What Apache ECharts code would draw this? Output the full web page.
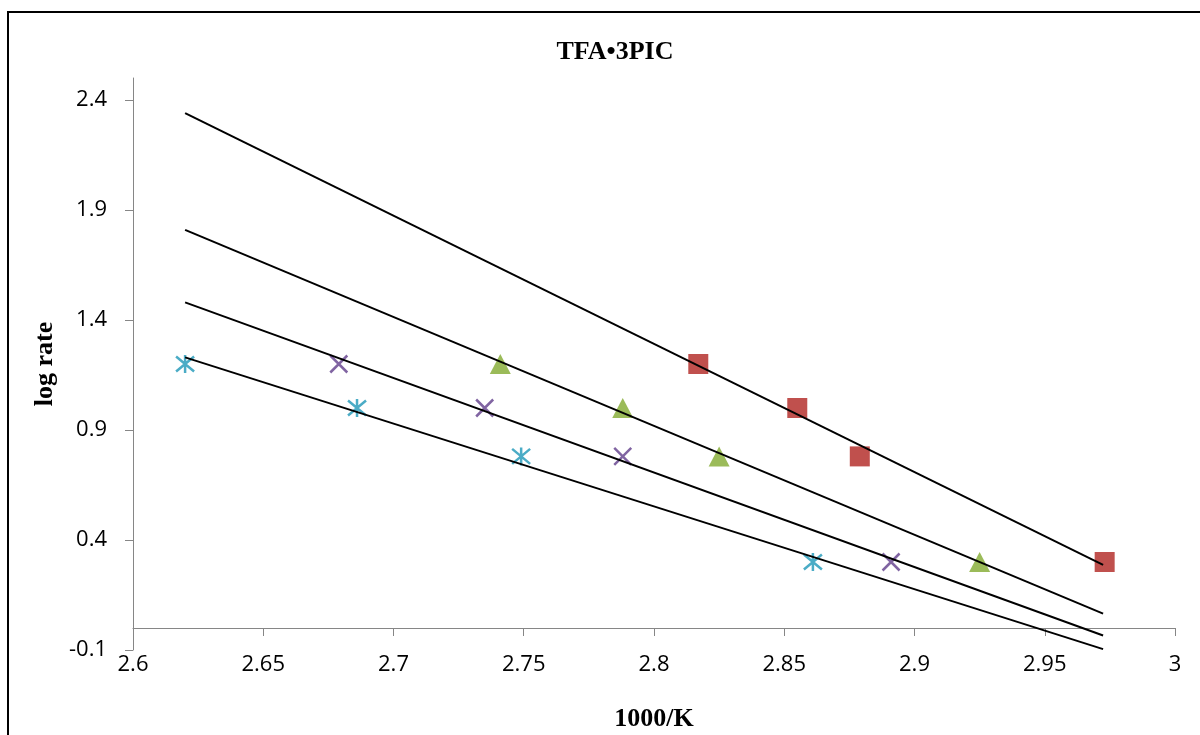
<!DOCTYPE html>
<html>
<head>
<meta charset="utf-8">
<script src="https://cdn.jsdelivr.net/npm/echarts@6/dist/echarts.min.js"></script>
<style>
  html, body { margin: 0; padding: 0; background: #fff; }
  #chart { width: 1200px; height: 735px; }
</style>
</head>
<body>
<div id="chart"></div>
<script>
// ---- data ----
const titleText = 'TFA\u20223PIC';
const xName = '1000/K';
const yName = 'log rate';
const yTickValues = [-0.1, 0.4, 0.9, 1.4, 1.9, 2.4];

const seriesNames = ['Red', 'Green', 'Purple', 'Cyan'];
const logRate = [1.2, 1.0, 0.78, 0.3];
const xRed    = [2.817, 2.855, 2.879, 2.973];
const xGreen  = [2.741, 2.788, 2.825, 2.925];
const xPurple = [2.679, 2.735, 2.788, 2.891];
const xCyan   = [2.620, 2.686, 2.749, 2.861];

const trendX0 = 2.62;
const trendX1 = 2.9724;
const trendStart = [2.34, 1.81, 1.48, 1.23];
const trendEnd   = [0.287, 0.065, -0.034, -0.096];

// ---- chart ----
const colors = ['#C0504D', '#9BBB59', '#8064A2', '#4BACC6'];
const xs = [xRed, xGreen, xPurple, xCyan];
const symbols = [
  'rect',
  'triangle',
  'path://M0,0L10,10M10,0L0,10',
  'path://M0,0L10,10M10,0L0,10M5,-1L5,11'
];

const pointSeries = xs.map((arr, i) => {
  const isStroke = i >= 2;
  return {
    name: seriesNames[i],
    type: 'scatter',
    data: arr.map((x, j) => [x, logRate[j]]),
    symbol: symbols[i],
    symbolSize: i === 0 ? 20 : (i === 1 ? [21, 20] : (i === 2 ? 17 : 18)),
    itemStyle: isStroke
      ? { color: 'none', borderColor: colors[i], borderWidth: 2.5, opacity: 1 }
      : { color: colors[i], opacity: 1 },
    z: 2
  };
});

const trendSeries = trendStart.map((y0, i) => ({
  name: seriesNames[i] + ' trend',
  type: 'line',
  data: [[trendX0, y0], [trendX1, trendEnd[i]]],
  symbol: 'none',
  lineStyle: { color: '#000', width: 2 },
  z: 3,
  silent: true
}));

const axisGray = '#868686';
const labelFont = { fontFamily: 'Open Sans', fontSize: 22, color: '#000' };

const chart = echarts.init(document.getElementById('chart'));
chart.setOption({
  animation: false,
  backgroundColor: '#fff',
  title: {
    text: titleText,
    left: 610,
    textAlign: 'center',
    top: 34,
    textStyle: { fontFamily: 'Liberation Serif', fontWeight: 'bold', fontSize: 26, color: '#000' }
  },
  grid: { left: 133, right: 25, top: 78, bottom: 85, containLabel: false, outerBoundsMode: 'none' },
  xAxis: {
    type: 'value',
    min: 2.6, max: 3, interval: 0.05,
    name: xName,
    nameLocation: 'middle',
    nameGap: 56,
    nameTextStyle: { fontFamily: 'Liberation Serif', fontWeight: 'bold', fontSize: 26, color: '#000' },
    axisLine: { onZero: true, lineStyle: { color: axisGray, width: 1 } },
    axisTick: { show: true, inside: false, length: 8, lineStyle: { color: axisGray } },
    axisLabel: Object.assign({ margin: 4, formatter: v => String(+v.toFixed(2)) }, labelFont),
    splitLine: { show: false }
  },
  yAxis: {
    type: 'value',
    min: -0.1, max: 2.5, interval: 0.5,
    name: yName,
    nameLocation: 'middle',
    nameGap: 73,
    nameRotate: 90,
    nameTextStyle: { fontFamily: 'Liberation Serif', fontWeight: 'bold', fontSize: 26, color: '#000' },
    axisLine: { show: true, onZero: false, lineStyle: { color: axisGray, width: 1 } },
    axisTick: { show: true, inside: false, length: 8, lineStyle: { color: axisGray }, customValues: yTickValues },
    axisLabel: Object.assign({ margin: 26, customValues: yTickValues, formatter: v => String(+v.toFixed(1)) }, labelFont),
    splitLine: { show: false }
  },
  graphic: [{
    type: 'rect',
    shape: { x: 8, y: 12, width: 1220, height: 760 },
    style: { fill: 'none', stroke: '#000', lineWidth: 2 },
    silent: true,
    z: 100
  }],
  series: pointSeries.concat(trendSeries)
});
</script>
</body>
</html>
